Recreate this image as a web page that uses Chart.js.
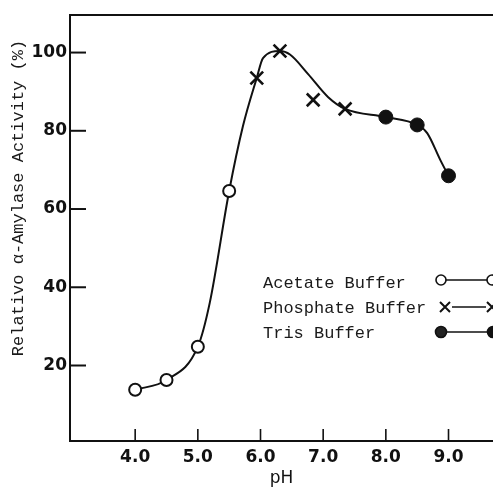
<!DOCTYPE html>
<html>
<head>
<meta charset="utf-8">
<script src="https://cdn.jsdelivr.net/npm/chart.js@4"></script>
<style>
    html, body { margin: 0; padding: 0; background: #fff; }
    #wrap { width: 493px; height: 489px; }
</style>
</head>
<body>
<div id="wrap"><canvas id="phChart"></canvas></div>
<script>
'use strict';

// measured points, one array pair per buffer
const acetatePh = [4.0, 4.5, 5.0, 5.5];
const acetateAct = [13.8, 16.3, 24.8, 64.6];

const phosphatePh = [5.94, 6.31, 6.84, 7.35];
const phosphateAct = [93.5, 100.4, 87.9, 85.6];

const trisPh = [8.0, 8.5, 9.0];
const trisAct = [83.5, 81.5, 68.5];

// hand-drawn smooth curve through the data
const curvePh = [4.0, 4.5, 5.0, 5.19, 5.5, 5.72, 5.94, 6.04, 6.31, 6.47, 6.76, 7.08, 7.35, 8.0, 8.5, 8.66, 8.87, 9.0];
const curveAct = [13.8, 16.3, 24.8, 36.0, 64.6, 81.2, 93.5, 98.6, 100.4, 99.5, 94.5, 88.6, 85.6, 83.5, 81.5, 79.4, 72.5, 68.5];

const xTicks = [4, 5, 6, 7, 8, 9];
const yTicks = [20, 40, 60, 80, 100];

const yTitle = 'Relativo \u03b1-Amylase Activity (%)';
const xTitle = 'pH';
const legendNames = ['Acetate Buffer', 'Phosphate Buffer', 'Tris Buffer'];

const INK = '#111';
const MONO = '"Liberation Mono", "DejaVu Sans Mono", monospace';

function pts(xs, ys) {
    return xs.map((x, i) => ({ x: x, y: ys[i] }));
}

function drawCircle(ctx, x, y, r, fill) {
    ctx.beginPath();
    ctx.arc(x, y, r, 0, Math.PI * 2);
    ctx.fillStyle = fill;
    ctx.fill();
    ctx.stroke();
}

function drawCross(ctx, x, y, r) {
    ctx.beginPath();
    ctx.moveTo(x - r, y - r);
    ctx.lineTo(x + r, y + r);
    ctx.moveTo(x + r, y - r);
    ctx.lineTo(x - r, y + r);
    ctx.stroke();
}

// inward ticks, top frame line, rotated y title and the key
const decorations = {
    id: 'decorations',
    afterDraw(chart) {
        const ctx = chart.ctx;
        const area = chart.chartArea;
        const xs = chart.scales.x;
        const ys = chart.scales.y;

        ctx.save();
        ctx.strokeStyle = INK;
        ctx.lineCap = 'butt';

        ctx.lineWidth = 2;
        ctx.beginPath();
        ctx.moveTo(area.left - 1, area.top);
        ctx.lineTo(area.right, area.top);
        ctx.stroke();

        yTicks.forEach(v => {
            const py = ys.getPixelForValue(v);
            ctx.beginPath();
            ctx.moveTo(area.left, py);
            ctx.lineTo(area.left + 16, py);
            ctx.stroke();
        });

        ctx.lineWidth = 1.6;
        xTicks.forEach(v => {
            const px = xs.getPixelForValue(v);
            ctx.beginPath();
            ctx.moveTo(px, area.bottom);
            ctx.lineTo(px, area.bottom - 12);
            ctx.stroke();
        });

        // y axis title
        ctx.save();
        ctx.translate(18, 198);
        ctx.rotate(-Math.PI / 2);
        ctx.font = '17px ' + MONO;
        ctx.fillStyle = '#1a1a1a';
        ctx.textAlign = 'center';
        ctx.textBaseline = 'middle';
        ctx.fillText(yTitle, 0, 0);
        ctx.restore();

        // key
        ctx.font = '17px ' + MONO;
        ctx.fillStyle = '#1a1a1a';
        ctx.textAlign = 'left';
        ctx.textBaseline = 'alphabetic';
        const rows = [288, 313, 338];
        legendNames.forEach((name, i) => {
            ctx.fillText(name, 263, rows[i]);
        });

        ctx.lineWidth = 1.6;
        ctx.strokeStyle = INK;
        // acetate
        ctx.beginPath();
        ctx.moveTo(446, 280);
        ctx.lineTo(487, 280);
        ctx.stroke();
        drawCircle(ctx, 441, 280, 5, '#fff');
        drawCircle(ctx, 492, 280, 5, '#fff');
        // phosphate
        ctx.beginPath();
        ctx.moveTo(452, 307);
        ctx.lineTo(486, 307);
        ctx.stroke();
        ctx.lineWidth = 2;
        drawCross(ctx, 445, 307, 5);
        drawCross(ctx, 492, 307, 5);
        // tris
        ctx.lineWidth = 1.6;
        ctx.beginPath();
        ctx.moveTo(446, 332);
        ctx.lineTo(487, 332);
        ctx.stroke();
        drawCircle(ctx, 441, 332, 5.5, '#222');
        drawCircle(ctx, 493, 332, 5.5, INK);

        ctx.restore();
    }
};

new Chart(document.getElementById('phChart'), {
    type: 'scatter',
    data: {
        datasets: [
            {
                label: legendNames[0],
                data: pts(acetatePh, acetateAct),
                pointStyle: 'circle',
                pointRadius: 6,
                pointBackgroundColor: '#fff',
                pointBorderColor: INK,
                pointBorderWidth: 2
            },
            {
                label: legendNames[1],
                data: pts(phosphatePh, phosphateAct),
                pointStyle: 'crossRot',
                pointRadius: 9,
                pointBorderColor: INK,
                pointBorderWidth: 2.6
            },
            {
                label: legendNames[2],
                data: pts(trisPh, trisAct),
                pointStyle: 'circle',
                pointRadius: 7,
                pointBackgroundColor: INK,
                pointBorderColor: INK,
                pointBorderWidth: 1
            },
            {
                label: 'curve',
                data: pts(curvePh, curveAct),
                showLine: true,
                pointRadius: 0,
                borderColor: INK,
                borderWidth: 2,
                cubicInterpolationMode: 'monotone'
            }
        ]
    },
    options: {
        responsive: true,
        maintainAspectRatio: false,
        animation: false,
        layout: {
            autoPadding: false,
            padding: { top: 15, right: 0, left: 0, bottom: 0 }
        },
        plugins: {
            legend: { display: false },
            tooltip: { enabled: false }
        },
        scales: {
            x: {
                type: 'linear',
                min: 2.96,
                max: 9.71,
                afterBuildTicks: (scale) => { scale.ticks = xTicks.map(v => ({ value: v })); },
                afterFit: (scale) => {
                    scale.height = 48;
                    scale.paddingLeft = 0;
                    scale.paddingRight = 0;
                },
                grid: { drawOnChartArea: false, drawTicks: false },
                border: { display: true, color: INK, width: 2 },
                ticks: {
                    padding: 6,
                    color: INK,
                    font: { family: '"DejaVu Sans", sans-serif', size: 17, weight: 'bold' },
                    callback: (v) => Number(v).toFixed(1)
                },
                title: {
                    display: true,
                    text: xTitle,
                    color: INK,
                    padding: { top: 0, bottom: 0 },
                    font: { family: '"DejaVu Sans", sans-serif', size: 17 }
                }
            },
            y: {
                type: 'linear',
                min: 0.7,
                max: 109.6,
                afterBuildTicks: (scale) => { scale.ticks = yTicks.map(v => ({ value: v })); },
                afterFit: (scale) => { scale.width = 70; },
                grid: { drawOnChartArea: false, drawTicks: false },
                border: { display: true, color: INK, width: 2 },
                ticks: {
                    padding: 3,
                    color: INK,
                    font: { family: '"DejaVu Sans", sans-serif', size: 17, weight: 'bold' }
                }
            }
        }
    },
    plugins: [decorations]
});
</script>
</body>
</html>
